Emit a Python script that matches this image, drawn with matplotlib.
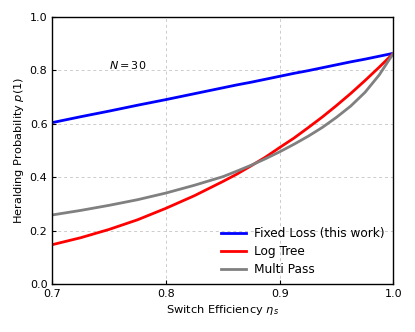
import matplotlib
matplotlib.use("Agg")
import matplotlib.pyplot as plt


eta = [0.700, 0.725, 0.750, 0.775, 0.800, 0.825, 0.850, 0.8625, 0.875,
       0.8875, 0.900, 0.9125, 0.925, 0.9375, 0.950, 0.9625, 0.975,
       0.9875, 1.000]

fixed_loss = [0.604, 0.626, 0.647, 0.669, 0.690, 0.712, 0.734, 0.745, 0.755,
              0.766, 0.777, 0.788, 0.798, 0.809, 0.820, 0.831, 0.841,
              0.852, 0.863]
log_tree = [0.148, 0.174, 0.205, 0.241, 0.284, 0.331, 0.384, 0.412, 0.443,
            0.475, 0.511, 0.546, 0.585, 0.625, 0.668, 0.713, 0.761,
            0.811, 0.863]
multi_pass = [0.259, 0.276, 0.295, 0.316, 0.341, 0.370, 0.402, 0.423, 0.445,
              0.469, 0.495, 0.523, 0.553, 0.586, 0.624, 0.666, 0.717,
              0.782, 0.863]

labels = ["Fixed Loss (this work)", "Log Tree", "Multi Pass"]
colors = ["blue", "red", "gray"]

fig = plt.figure(figsize=(4.15, 3.32), dpi=100)
ax = fig.add_axes([0.126, 0.1437, 0.822, 0.8063])

for ys, lab, col in zip([fixed_loss, log_tree, multi_pass], labels, colors):
  ax.plot(eta, ys, color=col, lw=2, label=lab)

ax.set_xlim(0.7, 1.0)
ax.set_ylim(0.0, 1.0)
ax.set_xticks([0.7, 0.8, 0.9, 1.0])
ax.set_yticks([0.0, 0.2, 0.4, 0.6, 0.8, 1.0])
ax.tick_params(direction="in", labelsize=8, length=3, width=0.8)
ax.grid(True, ls=(0, (3, 3)), color="#cccccc", lw=0.7)
for sp in ax.spines.values():
  sp.set_linewidth(1.0)

ax.set_xlabel(r"Switch Efficiency $\eta_s$", fontsize=8.2, labelpad=3)
ax.set_ylabel(r"Heralding Probability $p(1)$", fontsize=8.2, labelpad=3)
ax.text(0.75, 0.82, r"$N = 30$", fontsize=8, va="center")

ax.legend(loc="lower right", frameon=False, fontsize=8.7, handlelength=2.1,
          handletextpad=0.7, borderaxespad=0.3, labelspacing=0.4)

fig.savefig("out.png", dpi=100)
